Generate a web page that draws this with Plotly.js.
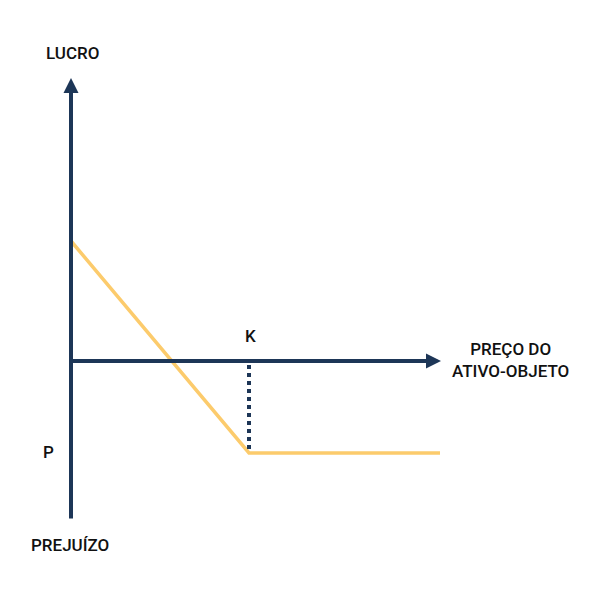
<!DOCTYPE html>
<html><head><meta charset="utf-8">
<script src="https://cdn.plot.ly/plotly-3.0.1.min.js"></script>
<style>html,body{margin:0;padding:0;background:#fff}#c{width:600px;height:600px}</style>
</head><body><div id="c"></div>
<script>
// Long put payoff (units arbitrary)
const price = [0, 178, 369];
const profit = [120, -92, -92];
const strike = 178;
const premiumLoss = -92;
const xAxisEnd = 370;
const yAxisTop = 283;
const yAxisBottom = -159;
const labels = {profit:'LUCRO', loss:'PREJUÍZO', price:'PREÇO DO<br>ATIVO-OBJETO', strike:'K', premium:'P'};

const navy = '#1d3657';
const gold = '#fccb6c';
const font = {family:'Roboto, sans-serif', size:17, color:'#111', weight:500};

const traces = [
  {x:price, y:profit, mode:'lines', line:{color:gold, width:3.5}, hoverinfo:'skip'},
  {x:[strike, strike], y:[-4, premiumLoss+3], mode:'lines', line:{color:navy, width:4, dash:'dot'}, hoverinfo:'skip'}
];

const layout = {
  width:600, height:600,
  margin:{l:0,r:0,t:0,b:0},
  paper_bgcolor:'#fff', plot_bgcolor:'#fff',
  showlegend:false,
  xaxis:{range:[-71,529], visible:false, fixedrange:true},
  yaxis:{range:[-239,361], visible:false, fixedrange:true},
  annotations:[
    {x:xAxisEnd, y:0, ax:0, ay:0, axref:'x', ayref:'y', xref:'x', yref:'y', text:'', showarrow:true, arrowhead:2, arrowsize:0.75, arrowwidth:4, arrowcolor:navy},
    {x:0, y:yAxisTop, ax:0, ay:yAxisBottom, axref:'x', ayref:'y', xref:'x', yref:'y', text:'', showarrow:true, arrowhead:2, arrowsize:0.75, arrowwidth:4, arrowcolor:navy},
    {x:1, y:308, xref:'x', yref:'y', text:labels.profit, showarrow:false, font:font},
    {x:-1, y:-184, xref:'x', yref:'y', text:labels.loss, showarrow:false, font:font},
    {x:439, y:1, xref:'x', yref:'y', text:labels.price, showarrow:false, font:font, align:'center'},
    {x:strike+1, y:25, xref:'x', yref:'y', text:labels.strike, showarrow:false, font:font},
    {x:-23, y:premiumLoss+1, xref:'x', yref:'y', text:labels.premium, showarrow:false, font:font}
  ]
};
Plotly.newPlot('c', traces, layout, {staticPlot:true, displayModeBar:false});
</script></body></html>
